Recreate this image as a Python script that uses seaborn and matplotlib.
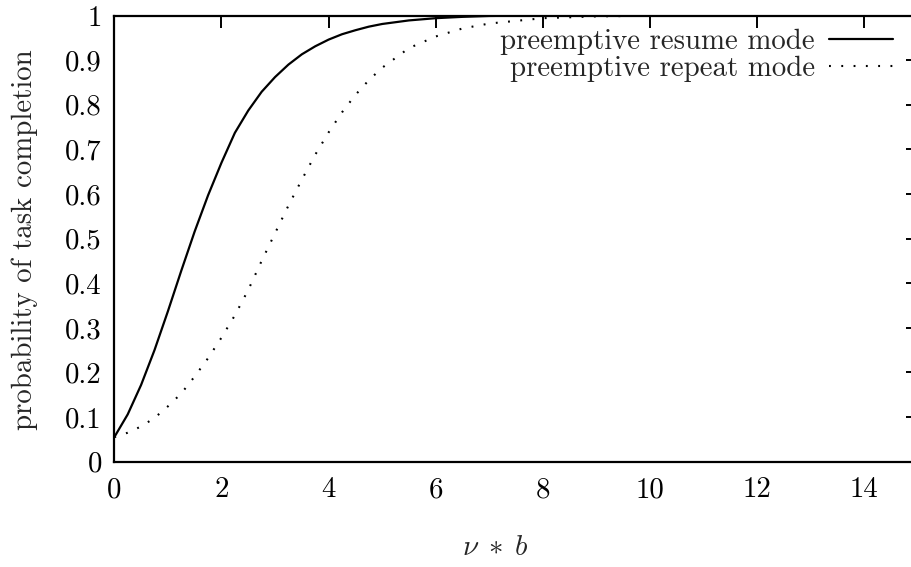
import numpy as np
import pandas as pd
import matplotlib
matplotlib.use("Agg")
import matplotlib.pyplot as plt
import seaborn as sns

# data
resume_x = [0, 0.25, 0.5, 0.75, 1.0, 1.25, 1.5, 1.75, 2.0, 2.25, 2.5, 2.75, 3.0,
            3.25, 3.5, 3.75, 4.0, 4.25, 4.5, 4.75, 5.0, 5.5, 6.0, 6.5, 7.0, 8.0,
            10.0, 15.0]
resume_y = [0.055, 0.106, 0.172, 0.250, 0.337, 0.428, 0.516, 0.597, 0.670, 0.737,
            0.787, 0.829, 0.862, 0.890, 0.913, 0.931, 0.946, 0.958, 0.967, 0.975,
            0.981, 0.989, 0.994, 0.997, 0.999, 1.0, 1.0, 1.0]
repeat_x = [0, 0.25, 0.5, 0.75, 1.0, 1.25, 1.5, 1.75, 2.0, 2.25, 2.5, 2.75, 3.0,
            3.25, 3.5, 3.75, 4.0, 4.25, 4.5, 4.75, 5.0, 5.5, 6.0, 6.5, 7.0, 8.0,
            9.0, 10.0, 11.0, 15.0]
repeat_y = [0.055, 0.065, 0.079, 0.098, 0.124, 0.153, 0.191, 0.232, 0.278, 0.328,
            0.385, 0.450, 0.512, 0.574, 0.632, 0.688, 0.738, 0.783, 0.822, 0.855,
            0.883, 0.927, 0.953, 0.971, 0.982, 0.994, 0.998, 0.9995, 1.0, 1.0]
labels = ["preemptive resume mode", "preemptive repeat mode"]
xticks = [0, 2, 4, 6, 8, 10, 12, 14]
yticks = [0, 0.1, 0.2, 0.3, 0.4, 0.5, 0.6, 0.7, 0.8, 0.9, 1]
ytick_labels = ["0", "0.1", "0.2", "0.3", "0.4", "0.5", "0.6", "0.7", "0.8", "0.9", "1"]

sns.set_style("white")
plt.rcParams["font.family"] = ["cmr10", "DejaVu Serif"]
plt.rcParams["mathtext.fontset"] = "cm"
plt.rcParams["axes.unicode_minus"] = False
plt.rcParams["axes.formatter.use_mathtext"] = True

fs = 20.8
fig = plt.figure(figsize=(9.11, 5.67), dpi=100)
W, H = 911, 567
left, right, top, bottom = 114.3, 918.0, 15.5, 461.7
ax = fig.add_axes([left / W, (H - bottom) / H, (right - left) / W, (bottom - top) / H])

df1 = pd.DataFrame({"x": resume_x, "y": resume_y})
df2 = pd.DataFrame({"x": repeat_x, "y": repeat_y})
sns.lineplot(data=df1, x="x", y="y", ax=ax, color="black", linewidth=1.6,
             label=labels[0])
sns.lineplot(data=df2, x="x", y="y", ax=ax, color="black", linewidth=1.5,
             linestyle=(0, (0.9, 5.0)), label=labels[1])

ax.set_xlim(0, 15)
ax.set_ylim(0, 1)
ax.set_xticks(xticks)
ax.set_xticklabels([str(t) for t in xticks])
ax.set_yticks(yticks)
ax.set_yticklabels(ytick_labels)
for s in ax.spines.values():
    s.set_linewidth(1.6)
    s.set_color("black")
ax.tick_params(direction="in", length=8.5, width=1.4, top=True, right=True,
               labelsize=fs, colors="black")
ax.tick_params(axis="y", pad=9)
ax.tick_params(axis="x", pad=11)

ax.set_xlabel(r"$\nu\;\ast\;b$", fontsize=fs)
ax.set_ylabel("probability of task completion", fontsize=fs)
ax.xaxis.set_label_coords((495 - left) / (right - left), (bottom - 548) / (bottom - top))
ax.yaxis.set_label_coords((25 - left) / (right - left), (bottom - 240) / (bottom - top))
ax.xaxis.label.set_va("center")
ax.yaxis.label.set_va("center")

leg = ax.legend(loc="upper right", bbox_to_anchor=((893 - left) / (right - left), (bottom - 29) / (bottom - top)),
                frameon=False, markerfirst=False, fontsize=fs, borderpad=0,
                borderaxespad=0, handlelength=2.2, handletextpad=0.5,
                labelspacing=0.0)
for t in leg.get_texts():
    t.set_ha("right")

fig.savefig("out.png", dpi=100)
